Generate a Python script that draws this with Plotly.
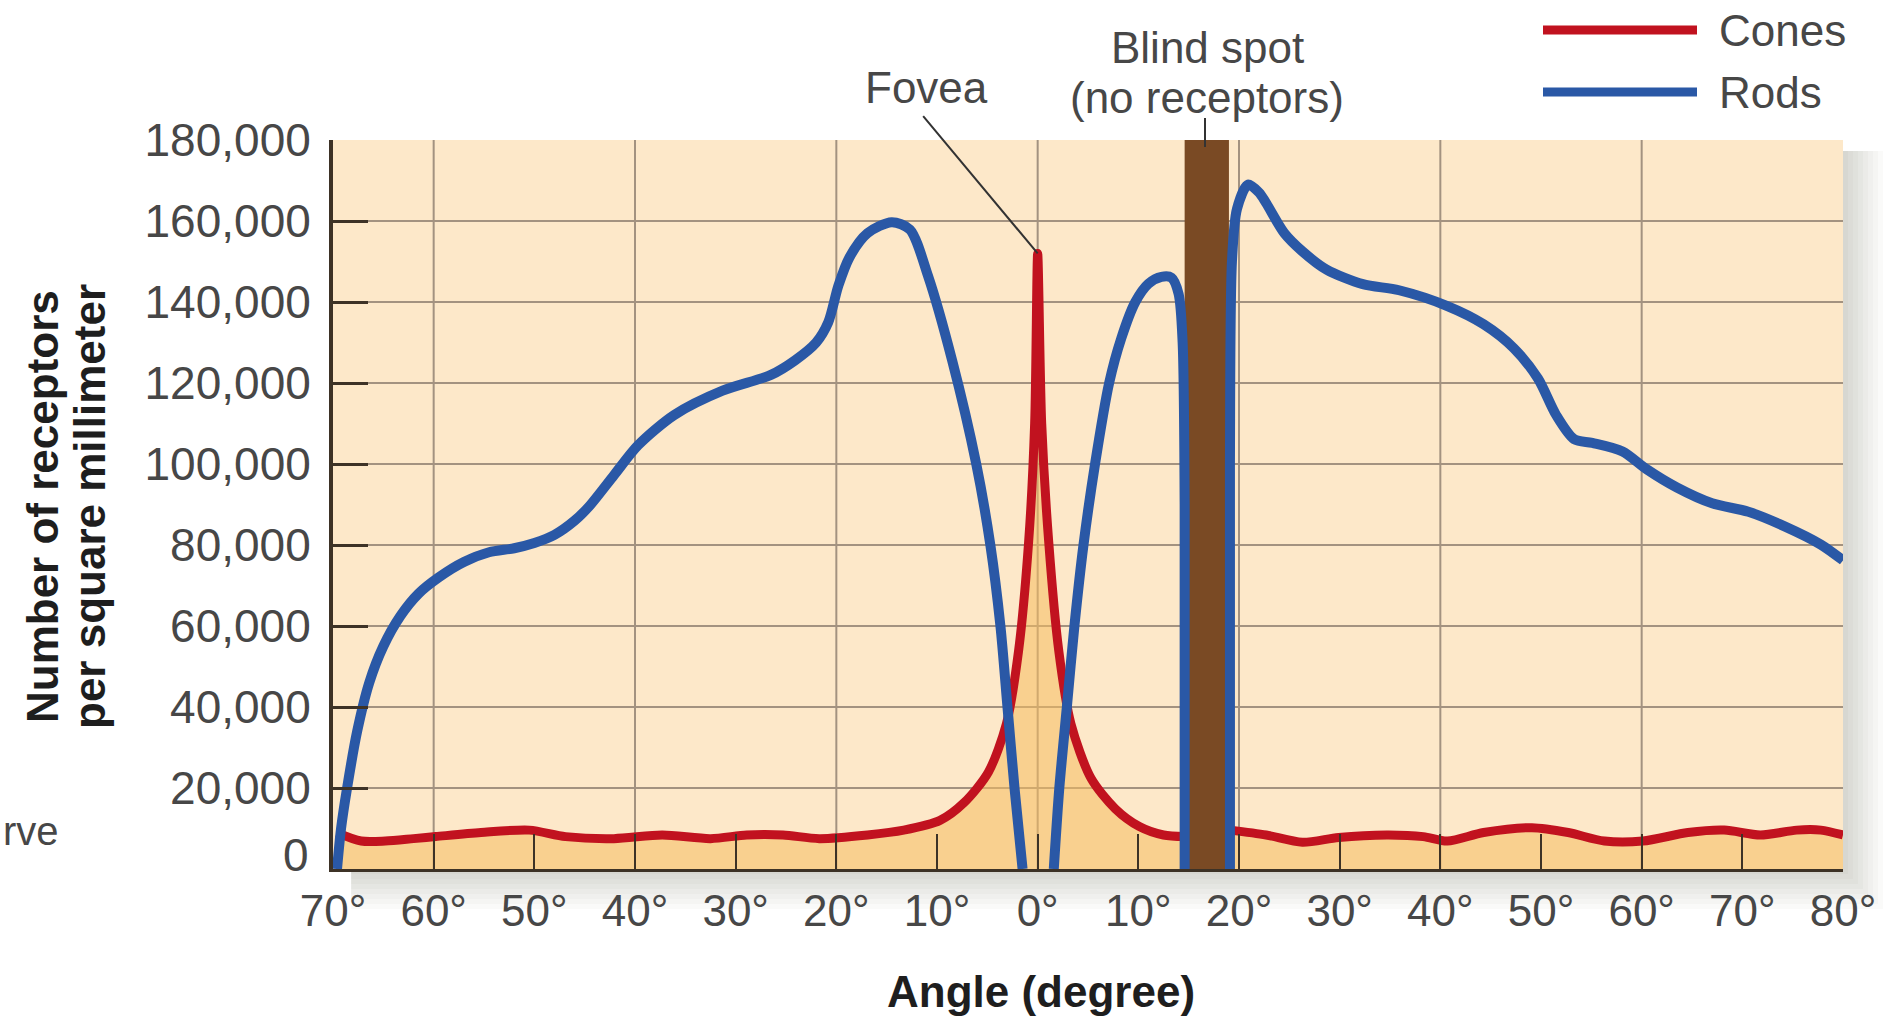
import plotly.graph_objects as go

# ---------------- data ----------------
tick_angles = [-70, -60, -50, -40, -30, -20, -10, 0, 10, 20, 30, 40, 50, 60, 70, 80]
tick_labels = ["70°", "60°", "50°", "40°", "30°", "20°", "10°", "0°",
               "10°", "20°", "30°", "40°", "50°", "60°", "70°", "80°"]
grid_angles = [-60, -40, -20, 0, 20, 40, 60]
y_ticks = [0, 20000, 40000, 60000, 80000, 100000, 120000, 140000, 160000, 180000]
y_tick_labels = ["", "20,000", "40,000", "60,000", "80,000", "100,000",
                 "120,000", "140,000", "160,000", "180,000"]

rods_x = [-69.6, -69.2, -68.6, -67.6, -66.4, -65.0, -63.3, -61.5, -59.5, -57.0,
          -54.5, -52.0, -50.0, -48.0, -46.0, -44.5, -42.1, -39.7, -36.1, -31.3,
          -26.5, -24.1, -22.0, -20.8, -19.8, -18.7, -16.9, -14.5, -12.7, -10.9,
          -8.5, -6.1, -4.7, -3.7, -3.0, -2.3, -1.5,
          None,
          1.6, 2.15, 2.9, 3.65, 4.55, 5.7, 7.1, 8.3, 9.7, 11.0, 12.3, 13.3, 14.0, 14.4, 14.6, 14.6,
          None,
          19.1, 19.1, 19.3, 19.8, 20.9, 22.0, 22.7, 24.5, 26.3, 28.7, 32.3, 35.9,
          40.7, 44.3, 47.3, 49.7, 51.5, 53.3, 55.1, 58.1, 60.5, 63.5, 67.0, 70.6,
          74.2, 77.8, 80.0]
rods_y = [0, 10000, 20000, 34000, 46000, 55000, 62500, 68000, 72000, 75800,
          78200, 79200, 80500, 82500, 86000, 89700, 97200, 104600, 112100, 118100,
          122000, 125600, 130000, 135000, 144000, 151000, 157000, 159700, 157900, 146500,
          125600, 100000, 80000, 60000, 40000, 20000, 0,
          None,
          0, 20000, 40000, 60000, 80000, 100000, 120000, 131000, 140000, 144500, 146200, 146000, 142000, 130000, 90000, 0,
          None,
          0, 100000, 150000, 163000, 169000, 167000, 164400, 157000, 152500, 148000, 144400, 142900,
          139000, 134500, 128600, 121100, 112100, 106100, 105200, 103100, 98700, 94200, 90300, 88200,
          84600, 80100, 76200]

# cones, left of the blind spot (including the fovea peak)
cones_left_x = [-69.6, -67.2, -64.8, -62.0, -59.8, -55.3, -50.5, -46.9, -42.1, -37.3,
                -32.5, -28.9, -25.3, -21.7, -16.9, -13.3, -9.7, -7.3, -4.9, -3.1,
                -1.9, -0.9, -0.3, 0.0, 0.4, 1.1, 2.1, 3.3, 5.3, 7.7,
                10.1, 12.5, 14.6]
cones_left_y = [9000, 6900, 6900, 7500, 8000, 9000, 9600, 8000, 7500, 8400,
                7500, 8400, 8400, 7500, 8400, 9600, 12000, 16400, 23900, 35900,
                53800, 80700, 110000, 152000, 110000, 80700, 53800, 35900, 22400, 14900,
                10500, 8400, 8000]
# cones, right of the blind spot
cones_right_x = [19.1, 22.7, 26.3, 29.9, 34.7, 38.3, 40.7, 44.3, 49.1, 52.7,
                 56.3, 60.1, 64.6, 68.2, 71.8, 75.4, 77.8, 80.0]
cones_right_y = [9600, 8400, 6600, 7800, 8400, 8000, 6900, 9000, 10200, 9000,
                 6900, 6900, 9000, 9600, 8400, 9600, 9600, 8400]

blind_spot_start = 14.6
blind_spot_end = 19.0
blind_spot_top = 180000
fovea_angle = 0.0
fovea_peak = 152000

# ---------------- styling ----------------
W, H = 1891, 1020
ML, MR, MT, MB = 333, 48, 140, 151
PW, PH = W - ML - MR, H - MT - MB

def px(xp):
    return (xp - ML) / PW

def py(yp):
    return (H - MB - yp) / PH

RED = "#C1121F"
BLUE = "#2A58A6"
BROWN = "#7A4A24"
GRID = "#A39280"
AXIS = "#3d3226"
TXT = "#474747"
FONT = "Liberation Sans, Arial, sans-serif"
FS = 44

fig = go.Figure()

fig.add_trace(go.Bar(
    x=[(blind_spot_start + blind_spot_end) / 2], y=[blind_spot_top],
    width=[blind_spot_end - blind_spot_start],
    marker=dict(color=BROWN, line=dict(width=0)),
    showlegend=False, hoverinfo="skip"))

for cx, cy in ((cones_left_x, cones_left_y), (cones_right_x, cones_right_y)):
    fig.add_trace(go.Scatter(
        x=cx, y=cy, mode="lines", name="Cones",
        line=dict(color=RED, width=9, shape="spline", smoothing=0.8),
        fill="tozeroy", fillcolor="rgba(245,188,95,0.55)",
        showlegend=False))

fig.add_trace(go.Scatter(
    x=rods_x, y=rods_y, mode="lines", name="Rods",
    line=dict(color=BLUE, width=10, shape="spline", smoothing=0.8),
    connectgaps=False, showlegend=False))

shapes = []
for a in grid_angles:
    shapes.append(dict(type="line", xref="x", yref="paper", x0=a, x1=a, y0=0, y1=1,
                       line=dict(color=GRID, width=2), layer="below"))

# drop shadow outside the plot area
n = 8
for i in range(n):
    alpha = 0.28 * (1 - i / n)
    col = f"rgba(110,112,90,{alpha:.3f})"
    shapes.append(dict(type="rect", xref="paper", yref="paper",
                       x0=0.012, x1=1 + (i + 1) * 5 / PW,
                       y0=-(i + 1) * 5 / PH, y1=-i * 5 / PH,
                       fillcolor=col, line=dict(width=0), layer="below"))
    shapes.append(dict(type="rect", xref="paper", yref="paper",
                       x0=1 + i * 5 / PW, x1=1 + (i + 1) * 5 / PW,
                       y0=-i * 5 / PH, y1=0.985,
                       fillcolor=col, line=dict(width=0), layer="below"))

# legend lines
shapes.append(dict(type="line", xref="paper", yref="paper", x0=px(1543), x1=px(1697),
                   y0=py(30), y1=py(30), line=dict(color=RED, width=9)))
shapes.append(dict(type="line", xref="paper", yref="paper", x0=px(1543), x1=px(1697),
                   y0=py(92), y1=py(92), line=dict(color=BLUE, width=9)))
# blind spot pointer
shapes.append(dict(type="line", xref="paper", yref="paper", x0=px(1205), x1=px(1205),
                   y0=py(118), y1=py(147), line=dict(color="#333333", width=2)))

ann = []
def txt(text, x, y, xanchor="center", yanchor="middle", bold=False, angle=0,
        color=TXT, size=FS):
    ann.append(dict(text=text, x=x, y=y, xref="paper", yref="paper",
                    xanchor=xanchor, yanchor=yanchor, showarrow=False, textangle=angle,
                    font=dict(family=FONT, size=size, color=color,
                              weight="bold" if bold else "normal")))

txt("Cones", px(1717), py(30), xanchor="left")
txt("Rods", px(1717), py(92), xanchor="left")
txt("Blind spot", px(1207), py(48))
txt("(no receptors)", px(1207), py(97))
txt("Fovea", px(926), py(87))
txt("0", px(311), py(855), xanchor="right", size=46)
txt("rve", px(1), py(831), xanchor="left", size=40)
txt("Angle (degree)", px(1041), py(991), bold=True, color="#1e1e1e")
txt("Number of receptors", px(42), py(507), bold=True, angle=-90, color="#1e1e1e")
txt("per square millimeter", px(89), py(507), bold=True, angle=-90, color="#1e1e1e")

# fovea pointer line
ann.append(dict(text=" ", x=fovea_angle, y=fovea_peak, xref="x", yref="y",
                ax=924 - 1040, ay=115 - 254, axref="pixel", ayref="pixel",
                showarrow=True, arrowhead=0, arrowwidth=2, arrowcolor="#333333",
                standoff=0, startstandoff=0, font=dict(size=1)))

fig.update_layout(
    width=W, height=H,
    margin=dict(l=ML, r=MR, t=MT, b=MB, pad=0),
    paper_bgcolor="white", plot_bgcolor="#FDE8C9",
    shapes=shapes, annotations=ann, showlegend=False,
    font=dict(family=FONT, size=FS, color=TXT),
    xaxis=dict(range=[-70, 80], tickvals=tick_angles, ticktext=tick_labels,
               ticks="inside", ticklen=35, tickwidth=2, tickcolor=AXIS,
               showline=True, linecolor=AXIS, linewidth=3,
               showgrid=False, zeroline=False, ticklabelstandoff=1,
               tickfont=dict(family=FONT, size=FS, color=TXT), fixedrange=True),
    yaxis=dict(range=[0, 180000], tickvals=y_ticks, ticktext=y_tick_labels,
               ticks="inside", ticklen=35, tickwidth=3, tickcolor=AXIS,
               showline=True, linecolor=AXIS, linewidth=4,
               showgrid=True, gridcolor=GRID, gridwidth=2, zeroline=False,
               ticklabelstandoff=9,
               tickfont=dict(family=FONT, size=46, color=TXT), fixedrange=True),
)

fig.write_html("out.html",
               config={"displayModeBar": False},
               post_script="document.body.style.margin='0px';"
                           "document.body.style.overflow='hidden';")
